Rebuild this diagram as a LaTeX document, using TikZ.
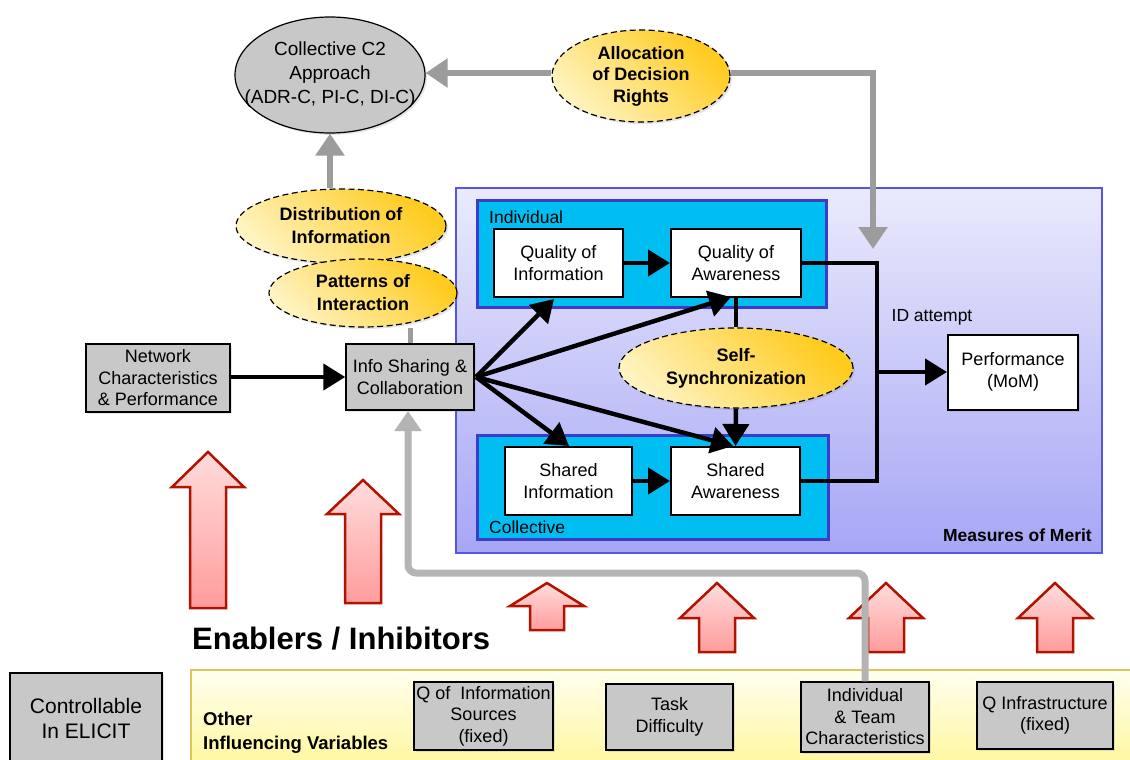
\documentclass[tikz,border=0pt]{standalone}
\usepackage{fontspec}
\setmainfont{Liberation Sans}
\usetikzlibrary{arrows.meta,shapes.geometric,shadows}

\definecolor{boxgray}{HTML}{C8C8C8}
\definecolor{linkgray}{HTML}{9C9C9C}
\definecolor{loopgray}{HTML}{B4B4B4}
\definecolor{mommtop}{HTML}{EAEAFC}
\definecolor{mommbot}{HTML}{A6A6F6}
\definecolor{mommline}{HTML}{5555DD}
\definecolor{cyanfill}{HTML}{00BEF2}
\definecolor{cyanline}{HTML}{3C3CC8}
\definecolor{ylight}{HTML}{FFF3C0}
\definecolor{ygold}{HTML}{FFCB1E}
\definecolor{bandtop}{HTML}{FFFFF0}
\definecolor{bandbot}{HTML}{FFF7A0}
\definecolor{bandline}{HTML}{E2C25A}
\definecolor{pinktop}{HTML}{FFDCDC}
\definecolor{pinkbot}{HTML}{FF9C9C}
\definecolor{arrowred}{HTML}{B01400}

\newcommand{\blockup}[6]{% x, tip, head base, bottom, half head, half shaft
  \pgfmathsetmacro\bxa{#1-#5}\pgfmathsetmacro\bxb{#1-#6}%
  \pgfmathsetmacro\bxc{#1+#6}\pgfmathsetmacro\bxd{#1+#5}%
  \path[redblock] (#1,#2) -- (\bxd,#3) -- (\bxc,#3) -- (\bxc,#4) -- (\bxb,#4)
    -- (\bxb,#3) -- (\bxa,#3) -- cycle;}
% centred line of zero width, so an ellipse keeps its given size
\newcommand{\zl}[1]{\makebox[0pt]{#1}}

\begin{document}
\begin{tikzpicture}[x=1pt,y=-1pt,
  txt/.style={font=\fontsize{18}{21.5}\selectfont, align=center, inner sep=0pt},
  bold/.style={font=\fontsize{18}{23}\selectfont\bfseries, align=center, inner sep=0pt},
  graybox/.style={txt, draw=black, line width=1.5pt, fill=boxgray,
    drop shadow={opacity=0.2, shadow xshift=2pt, shadow yshift=-2pt}},
  whitebox/.style={txt, draw=black, line width=2pt, fill=white,
    drop shadow={opacity=0.2, shadow xshift=2pt, shadow yshift=-2pt}},
  factor/.style={bold, ellipse, draw=black, dash pattern=on 6pt off 3.5pt, line width=1.2pt,
    shading=axis, bottom color=ylight, top color=ygold, shading angle=-45,
    drop shadow={opacity=0.2, shadow xshift=2pt, shadow yshift=-2pt}},
  flow/.style={line width=4.5pt, -{Triangle[length=22pt,width=26pt]}},
  plainflow/.style={line width=4.5pt},
  grayflow/.style={draw=linkgray, line width=6pt, -{Triangle[length=22pt,width=28pt]}},
  redblock/.style={draw=arrowred, line width=2.5pt, top color=pinktop, bottom color=pinkbot},
  tier/.style={draw=cyanline, line width=3pt, fill=cyanfill},
  lbl/.style={txt, font=\fontsize{17.5}{21}\selectfont}
]
\useasboundingbox (0,0) rectangle (1130,760);
\fill[white] (0,0) rectangle (1130,760);

% ---- Measures of Merit panel ----
\path[draw=mommline, line width=1.5pt, top color=mommtop, bottom color=mommbot]
  (456,188) rectangle (1102,553);
\node[bold, anchor=east, font=\fontsize{17.5}{21}\selectfont\bfseries] (mom) at (1092,535) {Measures of Merit};

\draw[tier] (477,200) rectangle (826,307);
\draw[tier] (477,435) rectangle (828,539);
\node[lbl, anchor=west] (indlbl) at (489,217) {Individual};
\node[lbl, anchor=west] (collbl) at (489,527) {Collective};

\node[whitebox, minimum width=129pt, minimum height=68pt] (qoi) at (558.5,263) {Quality of\\Information};
\node[whitebox, minimum width=130pt, minimum height=68pt] (qoa) at (736,263) {Quality of\\Awareness};
\node[whitebox, minimum width=127pt, minimum height=68pt] (si) at (568.5,481) {Shared\\Information};
\node[whitebox, minimum width=129pt, minimum height=68pt] (sa) at (735.5,481) {Shared\\Awareness};
\node[whitebox, minimum width=130pt, minimum height=75pt] (perf) at (1013,372) {Performance\\(MoM)};
\node[lbl] (idatt) at (932,317) {ID attempt};

\node[factor, minimum width=234pt, minimum height=80pt] (sync) at (736,368) {\zl{Self-}\\\zl{Synchronization}};

% ---- left side ----
\node[graybox, minimum width=128pt, minimum height=66pt] (info) at (410,377) {Info Sharing \&\\Collaboration};
\node[graybox, minimum width=144pt, minimum height=68pt] (net) at (158,378) {Network\\Characteristics\\\& Performance};

\node[txt, ellipse, draw=black, line width=1.2pt, fill=boxgray, minimum width=190pt, minimum height=116pt,
  font=\fontsize{19}{24}\selectfont,
  drop shadow={opacity=0.2, shadow xshift=2pt, shadow yshift=-2pt}] (c2) at (330,75)
  {\zl{Collective C2}\\\zl{Approach}\\\zl{(ADR-C, PI-C, DI-C)}};
\node[factor, minimum width=178pt, minimum height=92pt, font=\fontsize{18}{21.5}\selectfont\bfseries] (alloc) at (641,76)
  {\zl{Allocation}\\\zl{of Decision}\\\zl{Rights}};
\node[factor, minimum width=210pt, minimum height=74pt] (dist) at (341,226) {\zl{Distribution of}\\\zl{Information}};
\node[factor, minimum width=188pt, minimum height=68pt] (patt) at (363,293) {\zl{Patterns of}\\\zl{Interaction}};

% ---- gray influence links ----
\draw[grayflow] (alloc.west |- 0,73) -- (c2.east |- 0,73);
\draw[grayflow] (dist.north -| c2.south) -- (c2.south);
\draw[linkgray, line width=6pt] (alloc.east |- 0,73) -- (873,73) -- (873,200);
\coordinate (momin) at (873,249);
\draw[grayflow] (873,198) -- (momin);
\draw[linkgray, line width=5pt] (info.north) -- (patt.south -| info.north);

% ---- black flows ----
\draw[flow] (net.east |- info.west) -- (info.west);
\draw[flow] (qoi.east) -- (qoa.west);
\draw[flow] (si.east) -- (sa.west);
\coordinate (src) at (476,377);
\draw[flow] (src) -- (554,299);
\draw[flow] (src) -- (731,297);
\draw[flow] (src) -- (569,446);
\draw[flow] (src) -- (733,446);
\draw[plainflow] (qoa.south) -- (sync.north);
\draw[flow] (sync.south) -- (sa.north);
\draw[plainflow] (qoa.east) -- (877,263) -- (877,481) -- (sa.east);
\coordinate (junc) at (877,300);
\draw[flow] (junc |- perf.west) -- (perf.west);

% ---- enablers / inhibitors ----
\blockup{208}{452}{487}{608}{36}{18}
\blockup{363}{480}{514}{603}{36}{18}
\blockup{547}{583}{606}{630}{37}{17}
\blockup{717}{583}{618}{652}{37}{18}
\blockup{886}{583}{618}{652}{37}{18}
\blockup{1055}{583}{618}{652}{37}{18}

\node[bold, anchor=west, font=\fontsize{31}{36}\selectfont\bfseries] (enab) at (192,639) {Enablers / Inhibitors};

% ---- other influencing variables ----
\path[draw=bandline, line width=1.5pt, top color=bandtop, bottom color=bandbot]
  (191,670) rectangle (1134,764);
\node[bold, anchor=west, align=left, font=\fontsize{18.5}{24}\selectfont\bfseries] (other) at (203,733) {Other\\Influencing Variables};

\node[graybox, minimum width=152pt, minimum height=90pt, font=\fontsize{21}{25}\selectfont] (ctrl) at (86,718) {Controllable\\In ELICIT};
\node[graybox, minimum width=139pt, minimum height=68pt] (qis) at (483.5,716) {Q of~ Information\\Sources\\(fixed)};
\node[graybox, minimum width=127pt, minimum height=66pt] (task) at (669.5,717) {Task\\Difficulty};
\node[graybox, minimum width=128pt, minimum height=70pt] (team) at (865,717) {Individual\\\& Team\\Characteristics};
\node[graybox, minimum width=136pt, minimum height=67pt] (qinf) at (1045,715.5) {Q Infrastructure\\(fixed)};

% team characteristics feed back into info sharing
\draw[loopgray, line width=7pt, rounded corners=8pt, -{Triangle[length=20pt,width=26pt]}]
  (team.north) -- (865,573) -- (408,573) -- (408,411);
\end{tikzpicture}
\end{document}
